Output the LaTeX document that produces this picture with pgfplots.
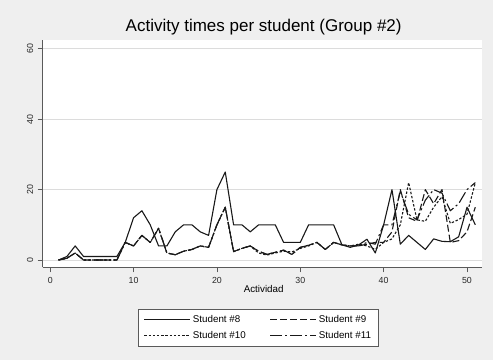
\documentclass[border=0pt]{standalone}
\usepackage{fontspec}
\setmainfont{Liberation Sans}
\usepackage{pgfplots}
\usepackage{pgfplotstable}
\pgfplotsset{compat=1.18}

\definecolor{graphbg}{RGB}{239,239,239}
\definecolor{gridc}{RGB}{220,220,220}
\definecolor{axisc}{RGB}{90,90,90}
\definecolor{linec}{RGB}{25,25,25}

% Minutes spent on each activity
\pgfplotstableread{
act s8 s9 s10 s11
1  0   0   0   0
2  1   0.5 0.5 0.5
3  4   2   2   2
4  1   0   0   0
5  1   0   0   0
6  1   0   0   0
7  1   0   0   0
8  1   0   0   0
9  5   5   5   5
10 12  4   4   4
11 14  7   7   7
12 10  5   5   5
13 4   9   9   9
14 4   2   2   2
15 8   1.5 1.5 1.5
16 10  2.5 2.5 2.5
17 10  3   3   3
18 8   4   4   4
19 7   3.6 3.6 3.6
20 20  10  10  10
21 25  15  15  15
22 10  2.4 2.4 2.4
23 10  3.3 3.3 3.3
24 8   4   4   4
25 10  2.5 2   2.5
26 10  1.6 1.4 1.6
27 10  2.2 2   2.2
28 5   2.8 2.5 2.8
29 5   1.6 2.3 1.6
30 5   3.6 3.3 3.6
31 10  4.2 4   4.2
32 10  5   5   5
33 10  3   3   3
34 10  5   5   5
35 4.3 4.3 4.3 4.3
36 3.6 4   4   4
37 4.3 4   4.5 4
38 5.9 4.5 4   5
39 2   5   3   4.5
40 10  5   5   10
41 20  8   6   10
42 4.5 20  10  19.5
43 7   12  22  13
44 5   11  11.4 11.4
45 3   20  11  17
46 6   16  15  20
47 5.3 20  18  19
48 5.2 5   10.4 14
49 6.6 5.5 11.5 16
50 15  8   13  20
51 10  15  22  22
}\actdata

\begin{document}
\begin{tikzpicture}
\fill[graphbg] (-42.7pt,-92.7pt) rectangle (450.3pt,267.3pt);
\begin{axis}[
  at={(0pt,0pt)}, anchor=south west,
  scale only axis, width=439.3pt, height=227.3pt,
  xmin=-0.9, xmax=51.8, ymin=-2.07, ymax=62.5,
  axis x line*=bottom, axis y line*=left,
  axis line style={draw=axisc, line width=0.8pt},
  axis background/.style={fill=white},
  xtick={0,10,...,50}, ytick={0,20,40,60},
  tick align=outside, major tick length=5pt,
  tick style={draw=axisc, line width=0.7pt},
  ymajorgrids, grid style={draw=gridc, line width=0.7pt},
  /pgf/number format/assume math mode=true,
  tick label style={font=\fontsize{8.8}{10}\selectfont, text=black!85},
  xticklabel style={anchor=center, inner sep=0pt, yshift=-7.7pt},
  yticklabel style={anchor=center, inner sep=0pt, xshift=-7.7pt, rotate=90},
  title={Activity times per student (Group \#2)},
  title style={font=\fontsize{17}{20}\selectfont, at={(0.503,1)}, anchor=base, yshift=2.5pt, inner sep=0pt},
  xlabel={Actividad},
  xlabel style={font=\fontsize{9.8}{11}\selectfont, at={(0.503,0)}, anchor=center, yshift=-22pt, inner sep=0pt},
  legend columns=2,
  legend cell align=left,
  legend style={at={(0.491,-0.184)}, anchor=north, draw=axisc, fill=white,
    font=\fontsize{9.8}{11}\selectfont, inner xsep=5.5pt, inner ysep=4pt,
    row sep=3.5pt,
    /tikz/every even column/.append style={column sep=22pt}},
  legend image code/.code={\draw[#1] (0pt,0pt) -- (46pt,0pt);},
  every axis plot/.append style={line width=1.1pt, line join=round},
]
\addplot[color=linec, solid] table[x=act, y=s8] {\actdata};
\addlegendentry{Student \#8}
\addplot[color=linec, dash pattern=on 7pt off 3pt] table[x=act, y=s9] {\actdata};
\addlegendentry{Student \#9}
\addplot[color=linec, dash pattern=on 2.4pt off 1.8pt] table[x=act, y=s10] {\actdata};
\addlegendentry{Student \#10}
\addplot[color=linec, dash pattern=on 12pt off 3pt on 2pt off 3pt] table[x=act, y=s11] {\actdata};
\addlegendentry{Student \#11}
\end{axis}
\end{tikzpicture}
\end{document}
